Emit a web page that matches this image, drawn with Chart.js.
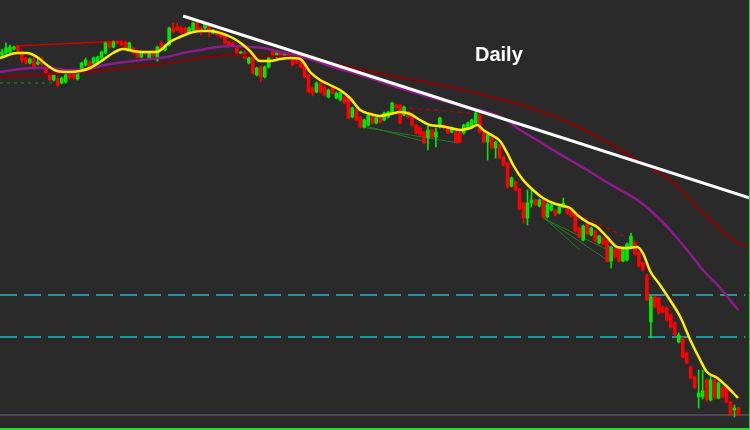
<!DOCTYPE html>
<html>
<head>
<meta charset="utf-8">
<script src="https://cdn.jsdelivr.net/npm/chart.js@4.4.1/dist/chart.umd.min.js"></script>
<style>
html,body{margin:0;padding:0;background:#2a2a2a;}
canvas{display:block;}
</style>
</head>
<body>
<canvas id="c" width="750" height="430"></canvas>
<script>
// Price levels (chart units, axis runs top-down)
const opens = [
55,53,52,49,46,52,58,63,60,64,
60,68,75,80,79,83,82,75,73,79,
70,65,62,63,62,58,53,43,47,42,
42,42,50,48,52,57,52,58,51,60,
43,50,45,28,27,28,28,32,30,22,
28,28,25,33,32,32,35,42,43,48,
53,52,63,57,75,67,77,67,52,57,
52,57,53,60,61,62,65,75,88,92,
83,87,97,88,98,100,97,98,117,110,
117,127,125,117,123,118,120,117,113,105,
105,115,112,115,125,128,132,138,130,137,
127,125,128,132,132,133,133,128,127,123,
115,133,142,137,148,145,157,163,186,182,
189,203,218,203,200,206,200,217,210,210,
213,207,207,211,213,228,240,224,235,231,
243,238,241,261,249,249,261,260,248,242,
252,263,275,322,297,298,307,308,315,323,
342,338,353,367,377,397,397,380,400,380,
398,387,388,402,410,408];
const highs = [
49,43,45,46,45,51,57,58,57,57,
57,66,73,74,77,77,73,74,72,73,
62,58,61,57,56,51,42,42,41,41,
41,41,42,47,50,51,51,52,50,46,
41,44,27,23,23,26,27,27,22,21,
27,22,24,29,31,31,34,41,42,47,
51,51,57,56,67,66,66,57,51,52,
51,52,52,59,60,61,64,74,87,82,
82,86,89,87,92,92,96,97,107,109,
116,119,114,116,117,117,112,111,102,104,
104,106,111,114,124,127,131,126,129,128,
117,124,127,127,131,132,124,122,119,111,
112,132,134,136,141,144,156,162,177,181,
188,202,190,190,199,199,198,203,204,209,
206,198,206,210,212,227,225,223,227,230,
235,237,240,246,248,248,247,243,233,241,
251,262,274,296,296,297,306,307,314,322,
333,337,352,366,376,370,370,379,375,379,
382,386,387,401,405,407];
const lows = [
57,54,53,50,53,63,64,64,69,65,
66,75,81,81,87,84,83,79,79,80,
71,66,68,64,63,59,54,48,48,44,
46,49,51,54,58,58,55,59,57,61,
51,51,46,33,31,34,33,33,31,31,
35,29,37,34,36,38,44,46,46,54,
54,59,64,74,76,82,78,68,58,58,
58,58,58,66,64,68,78,93,96,93,
93,96,98,94,99,101,104,119,118,121,
128,128,126,124,124,123,121,118,114,109,
124,116,118,126,134,136,144,150,138,147,
128,129,134,133,143,143,134,129,128,124,
133,143,160,149,158,159,166,188,187,191,
210,223,225,207,206,207,218,218,211,216,
214,208,214,217,232,238,241,235,236,242,
244,245,262,268,258,262,262,261,249,255,
267,271,301,338,308,314,313,321,328,336,
343,358,364,379,389,408,399,401,401,399,
399,398,403,416,417,416];
const closes = [
52,48,47,47,52,60,63,59,67,62,
64,73,80,75,85,78,75,78,78,74,
63,60,67,58,57,52,43,47,42,43,
45,48,43,53,57,52,54,53,56,47,
50,45,28,32,30,33,32,28,23,30,
32,23,32,30,35,37,43,45,45,53,
52,58,58,73,68,77,67,58,57,53,
57,53,57,65,63,67,77,92,93,83,
92,95,90,93,93,93,103,118,108,120,
127,120,115,123,118,122,113,112,103,108,
123,107,117,125,133,135,143,130,137,132,
118,128,133,128,142,142,125,123,120,113,
132,142,135,148,142,158,165,187,178,190,
209,218,203,200,205,200,217,204,205,215,
207,203,213,216,231,237,226,234,228,241,
236,244,261,247,257,261,248,244,236,254,
266,270,300,297,307,313,312,320,327,335,
335,357,363,378,387,393,391,400,380,398,
383,397,402,415,408,415];

// Moving averages: [candle index, level]
const maFast = [[-0.5,58],[3.8,53],[6.3,53],[8.8,57],[11.3,65],[13.8,71],[17.1,72],[19.6,71],[22.1,68],[24.6,62],[27.9,53],[30.4,49],[32.9,51],[35.4,52],[38.9,52],[40.5,48],[42.2,42],[44.7,37],[47.2,33],[49.8,31],[52.3,31],[54.8,33],[58.0,38],[60.6,45],[62.3,51],[64.8,61],[67.3,61],[69.9,59],[72.4,58],[74.9,59],[77.4,72],[79.9,80],[82.4,85],[84.9,90],[87.4,98],[90.0,110],[92.5,114],[95.0,116],[97.5,114],[100,112],[102.5,114],[105,120],[107.5,125],[110,126],[112.6,128],[115.1,130],[117.6,128],[119.4,125],[120.9,130],[123.4,136],[125.1,141],[126.9,153],[128.4,165],[130.9,180],[133.4,190],[135.9,198],[138.4,203],[141,206],[142.7,208],[144.5,215],[147,222],[149.5,227],[152,237],[154.5,247],[157,248],[159.6,247],[161.1,254],[162.8,271],[165.3,285],[167.8,300],[170.4,317],[172.9,340],[175.4,360],[177.1,372],[179.7,378],[182.2,387],[183.7,393],[184.9,398]];
const maMid = [[-0.5,72],[4.5,69],[7.8,68],[12.1,68],[16.3,70],[20.4,70],[24.6,66],[28.9,63],[32.9,61],[37.2,59],[41.5,57],[45.5,53],[49.8,50],[54,47],[58,46],[62.3,47],[65.6,48],[69.9,52],[74.9,56],[82.4,66],[92.5,78],[97.5,85],[107.5,97],[117.6,108],[121.9,112],[125.9,118],[130.2,130],[134.4,140],[138.4,150],[142.7,160],[147,170],[151,180],[155.3,190],[159.6,200],[163.6,213],[167.8,230],[172.1,250],[176.1,270],[180.4,288],[184.9,310]];
const maSlow = [[-0.5,77],[7.8,75],[16.3,73],[24.6,71],[32.9,67],[41.5,63],[49.8,58],[58,55],[65.6,56],[74.1,57],[82.4,63],[90.7,70],[99.3,77],[107.5,83],[115.8,90],[120.1,94],[125.9,100],[134.4,110],[142.7,123],[151,140],[159.6,160],[167.8,180],[177.9,220],[184.9,243],[186.7,246]];

// Drawn objects
const trendLine = [[45.5,16],[187.9,198]];
const resistLine = [[3.5,46],[30.4,41]];
const supportDots = [[-0.5,83],[14.6,83]];
const levels = [295,337];
const levelSpan = [-0.5,186.7];
const baseLevel = 415;
const redDash1 = [[102.5,108],[117.6,113]];
const redDash2 = [[144.5,214],[158.3,240]];
const fanA = [[[90.5,125],[107.5,143]],[[90.5,127],[114.6,143]]];
const fanB = [[[135.9,217],[145.2,250]],[[135.9,217],[152.8,262]],[[135.9,218],[155.8,257]]];

const xMin = -0.5, xMax = 187.9;
const UP = 'rgb(0,232,0)', DOWN = 'rgb(255,0,0)';

const idx = closes.map((_, i) => i);
const colors = idx.map(i => closes[i] < opens[i] ? UP : DOWN);
const pts = arr => arr.map(p => ({x: p[0], y: p[1]}));

function line(data, color, width, order, extra) {
  return Object.assign({
    type: 'line', data: pts(data), borderColor: color, borderWidth: width,
    pointRadius: 0, fill: false, order: order, tension: 0
  }, extra || {});
}

const datasets = [
  line(trendLine, '#ffffff', 3, 0),
  line(maFast, '#ffee00', 2.5, 1, {cubicInterpolationMode: 'monotone'}),
  {type: 'bar', data: idx.map(i => ({x: i, y: [opens[i], closes[i]]})), backgroundColor: colors,
   barThickness: 3, grouped: false, borderWidth: 0, minBarLength: 1, order: 5},
  {type: 'bar', data: idx.map(i => ({x: i, y: [highs[i], lows[i]]})), backgroundColor: colors,
   barThickness: 1, grouped: false, borderWidth: 0, order: 6},
  line(maMid, '#8e1a8e', 2.5, 3, {cubicInterpolationMode: 'monotone'}),
  line(maSlow, '#8b0000', 2, 4, {cubicInterpolationMode: 'monotone'}),
  line(resistLine, '#d00000', 1.5, 7),
  line(supportDots, '#1f5f1f', 2, 7, {borderDash: [3,4]}),
  line(redDash1, '#c00000', 1.2, 7, {borderDash: [4,4]}),
  line(redDash2, '#c00000', 1.2, 7, {borderDash: [4,4]}),
];
fanA.concat(fanB).forEach(f => datasets.push(line(f, '#237a23', 1, 8)));
levels.forEach(v => datasets.push(line([[levelSpan[0], v],[levelSpan[1], v]], '#23979f', 2, 9, {borderDash: [17,7]})));
datasets.push(line([[xMin, baseLevel],[xMax, baseLevel]], '#50565c', 1.5, 10));

const frame = {
  id: 'frame',
  beforeDraw(chart) {
    const c = chart.ctx;
    c.save(); c.fillStyle = '#2a2a2a'; c.fillRect(0, 0, chart.width, chart.height); c.restore();
  },
  afterDraw(chart) {
    const c = chart.ctx;
    c.save();
    c.fillStyle = '#22dd22';
    c.fillRect(0, 428, chart.width, 2);
    c.fillRect(749, 0, 1, chart.height);
    c.fillStyle = '#ffffff';
    c.font = 'bold 20px "Liberation Sans", Arial, sans-serif';
    c.textBaseline = 'alphabetic';
    c.fillText('Daily', 475, 61);
    c.restore();
  }
};

new Chart(document.getElementById('c'), {
  type: 'bar',
  data: {datasets},
  options: {
    responsive: false, animation: false, devicePixelRatio: 1,
    layout: {padding: 0},
    plugins: {legend: {display: false}, tooltip: {enabled: false}, title: {display: false}},
    scales: {
      x: {type: 'linear', min: xMin, max: xMax, display: false, offset: false},
      y: {type: 'linear', min: 0, max: 430, reverse: true, display: false}
    }
  },
  plugins: [frame]
});
</script>
</body>
</html>
